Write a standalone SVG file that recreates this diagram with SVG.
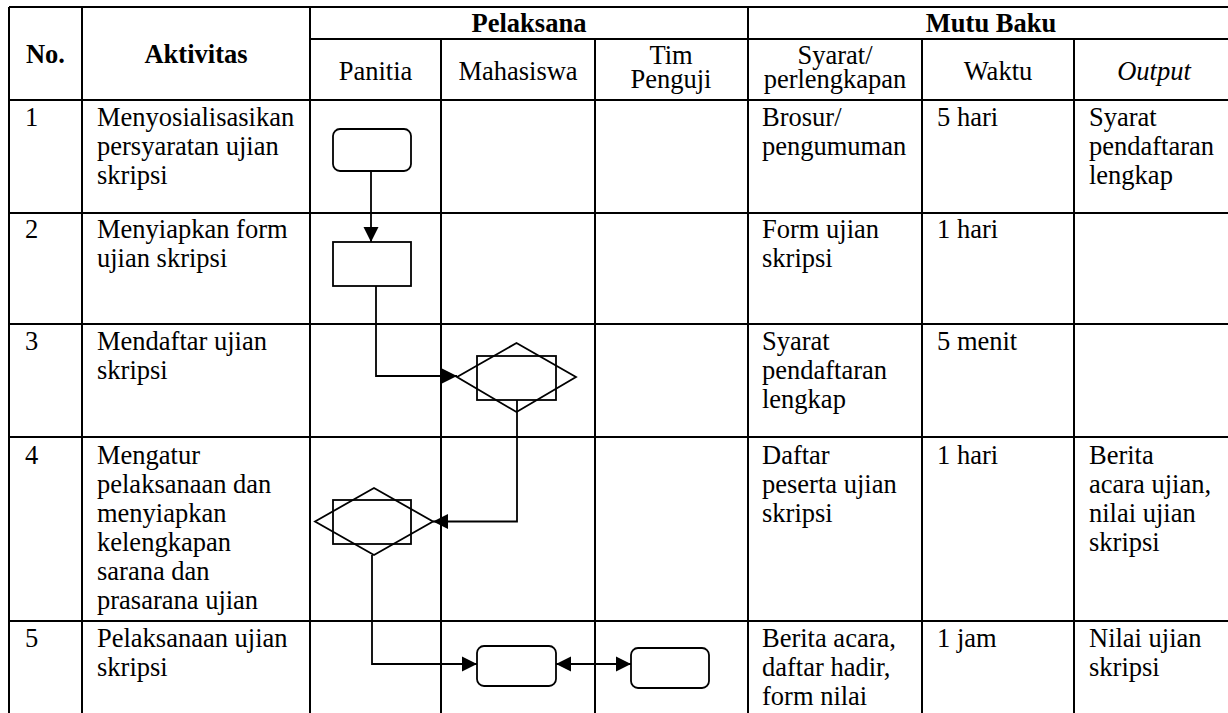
<svg xmlns="http://www.w3.org/2000/svg" width="1228" height="713" viewBox="0 0 1228 713">
<style>
text{font-family:"Liberation Serif","Times New Roman",serif;font-size:26.5px;fill:#000}
.b{font-weight:bold}
.i{font-style:italic}
.c{text-anchor:middle}
.grid line{stroke:#000;stroke-width:2}
.shape{fill:#fff;stroke:#000;stroke-width:1.8}
.hollow{fill:none;stroke:#000;stroke-width:1.8}
.conn{fill:none;stroke:#000;stroke-width:1.8}
</style>
<defs>
<marker id="ah" viewBox="0 0 10 10" refX="10" refY="5" markerWidth="15" markerHeight="16" markerUnits="userSpaceOnUse" orient="auto-start-reverse"><path d="M0,0 L10,5 L0,10 Z" fill="#000"/></marker>
</defs>
<rect width="1228" height="713" fill="#fff"/>
<g class="grid">
<line x1="9" y1="7" x2="1240" y2="7"/>
<line x1="310" y1="39" x2="1240" y2="39"/>
<line x1="9" y1="100" x2="1240" y2="100"/>
<line x1="9" y1="213" x2="1240" y2="213"/>
<line x1="9" y1="324" x2="1240" y2="324"/>
<line x1="9" y1="437" x2="1240" y2="437"/>
<line x1="9" y1="621" x2="1240" y2="621"/>
<line x1="9" y1="7" x2="9" y2="720"/>
<line x1="82" y1="7" x2="82" y2="720"/>
<line x1="310" y1="7" x2="310" y2="720"/>
<line x1="441" y1="39" x2="441" y2="720"/>
<line x1="595" y1="39" x2="595" y2="720"/>
<line x1="748" y1="7" x2="748" y2="720"/>
<line x1="922" y1="39" x2="922" y2="720"/>
<line x1="1074" y1="39" x2="1074" y2="720"/>
<line x1="1234" y1="7" x2="1234" y2="720"/>
</g>
<g id="header">
<text class="b c" x="45.5" y="63">No.</text>
<text class="b c" x="196" y="63">Aktivitas</text>
<text class="b c" x="529" y="32">Pelaksana</text>
<text class="b c" x="991" y="32">Mutu Baku</text>
<text class="c" x="375.5" y="80">Panitia</text>
<text class="c" x="518" y="80">Mahasiswa</text>
<text class="c" x="671" y="64">Tim</text>
<text class="c" x="671" y="88">Penguji</text>
<text class="c" x="835" y="64">Syarat/</text>
<text class="c" x="835" y="88">perlengkapan</text>
<text class="c" x="998" y="80">Waktu</text>
<text class="c i" x="1154" y="80">Output</text>
</g>
<g id="row1">
<text x="25" y="126">1</text>
<text x="97" y="126">Menyosialisasikan</text>
<text x="97" y="155">persyaratan ujian</text>
<text x="97" y="184">skripsi</text>
<text x="762" y="126">Brosur/</text>
<text x="762" y="155">pengumuman</text>
<text x="937" y="126">5 hari</text>
<text x="1089" y="126">Syarat</text>
<text x="1089" y="155">pendaftaran</text>
<text x="1089" y="184">lengkap</text>
</g>
<g id="row2">
<text x="25" y="238">2</text>
<text x="97" y="238">Menyiapkan form</text>
<text x="97" y="267">ujian skripsi</text>
<text x="762" y="238">Form ujian</text>
<text x="762" y="267">skripsi</text>
<text x="937" y="238">1 hari</text>
</g>
<g id="row3">
<text x="25" y="350">3</text>
<text x="97" y="350">Mendaftar ujian</text>
<text x="97" y="379">skripsi</text>
<text x="762" y="350">Syarat</text>
<text x="762" y="379">pendaftaran</text>
<text x="762" y="408">lengkap</text>
<text x="937" y="350">5 menit</text>
</g>
<g id="row4">
<text x="25" y="464">4</text>
<text x="97" y="464">Mengatur</text>
<text x="97" y="493">pelaksanaan dan</text>
<text x="97" y="522">menyiapkan</text>
<text x="97" y="551">kelengkapan</text>
<text x="97" y="580">sarana dan</text>
<text x="97" y="609">prasarana ujian</text>
<text x="762" y="464">Daftar</text>
<text x="762" y="493">peserta ujian</text>
<text x="762" y="522">skripsi</text>
<text x="937" y="464">1 hari</text>
<text x="1089" y="464">Berita</text>
<text x="1089" y="493">acara ujian,</text>
<text x="1089" y="522">nilai ujian</text>
<text x="1089" y="551">skripsi</text>
</g>
<g id="row5">
<text x="25" y="647">5</text>
<text x="97" y="647">Pelaksanaan ujian</text>
<text x="97" y="676">skripsi</text>
<text x="762" y="647">Berita acara,</text>
<text x="762" y="676">daftar hadir,</text>
<text x="762" y="705">form nilai</text>
<text x="937" y="647">1 jam</text>
<text x="1089" y="647">Nilai ujian</text>
<text x="1089" y="676">skripsi</text>
</g>
<g id="n1"><rect class="shape" x="333" y="129" width="78" height="42" rx="7"/></g>
<g id="n2"><rect class="shape" x="333" y="242" width="78" height="44"/></g>
<g id="n3"><polygon class="shape" points="457,377 516.5,343 576,377 516.5,412"/><rect class="hollow" x="477" y="356" width="79" height="44"/></g>
<g id="n4"><polygon class="shape" points="315,521.5 374,488 433,521.5 374,555"/><rect class="hollow" x="333" y="500" width="78" height="44"/></g>
<g id="n5"><rect class="shape" x="477" y="646" width="79" height="40" rx="7"/></g>
<g id="n6"><rect class="shape" x="631" y="648" width="78" height="40" rx="7"/></g>
<g id="connectors">
<path class="conn" d="M371,171 V242" marker-end="url(#ah)"/>
<path class="conn" d="M376,286 V376 H457" marker-end="url(#ah)"/>
<path class="conn" d="M517,400 V521.5 H433" marker-end="url(#ah)"/>
<path class="conn" d="M372,555 V664 H477" marker-end="url(#ah)"/>
<path class="conn" d="M556,664 H631" marker-start="url(#ah)" marker-end="url(#ah)"/>
</g>
</svg>
